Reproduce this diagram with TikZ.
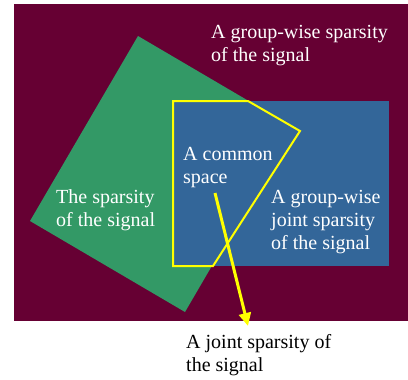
\documentclass[tikz,border=0pt]{standalone}
\usepackage{fontspec}
\setmainfont{Liberation Serif}
\usetikzlibrary{arrows.meta}
\definecolor{maroonbg}{HTML}{660033}
\definecolor{greenbox}{HTML}{339966}
\definecolor{bluebox}{HTML}{336699}
\definecolor{yellowline}{HTML}{FFFF00}
\tikzset{
  lbl/.style={anchor=base west, inner sep=0pt, align=left, font=\fontsize{20}{23}\selectfont},
  wlbl/.style={lbl, text=white},
  blbl/.style={lbl, text=black},
}
\begin{document}
\begin{tikzpicture}[x=1pt,y=-1pt]
\useasboundingbox (0,0) rectangle (408,380);
\fill[maroonbg] (14,4) rectangle (408,321);
\fill[greenbox] (138,36) -- (293,127) -- (185,312) -- (30,221) -- cycle;
\fill[bluebox] (173,101) rectangle (389,266);
\draw[yellowline, line width=2pt, line join=miter] (173,101) -- (248,101) -- (300,131) -- (213,266) -- (173,266) -- cycle;
\node[wlbl] (gws) at (211,61) {A group-wise sparsity\\of the signal};
\node[wlbl] (cs) at (183,183) {A common\\space};
\node[wlbl] (ts) at (56,226) {The sparsity\\of the signal};
\node[wlbl] (gwj) at (271,249) {A group-wise\\joint sparsity\\of the signal};
\node[blbl] (js) at (186,371) {A joint sparsity of\\the signal};
\coordinate (astart) at (215,193);
\coordinate (aend) at (248,326);
\draw[yellowline, line width=3pt, -{Triangle[length=13pt,width=12pt]}] (astart) -- (aend);
\end{tikzpicture}
\end{document}
